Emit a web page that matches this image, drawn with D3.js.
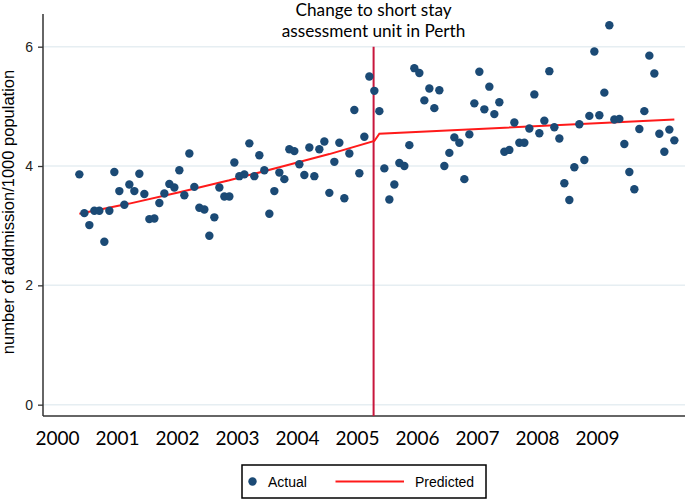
<!DOCTYPE html>
<html>
<head>
<meta charset="utf-8">
<script src="https://cdn.jsdelivr.net/npm/d3@7"></script>
<style>
  html, body { margin: 0; padding: 0; background: #fff; }
  svg { display: block; }
</style>
</head>
<body>
<svg id="chart" width="685" height="499"></svg>
<script>
// ---- data ----
const actual = [3.86,3.21,3.01,3.25,3.25,2.73,3.25,3.90,3.58,3.35,
  3.69,3.58,3.87,3.53,3.11,3.12,3.38,3.54,3.70,3.64,
  3.93,3.51,4.21,3.65,3.30,3.27,2.83,3.14,3.64,3.49,
  3.49,4.06,3.83,3.86,4.38,3.83,4.18,3.93,3.20,3.58,
  3.89,3.78,4.28,4.25,4.03,3.85,4.31,3.83,4.28,4.41,
  3.55,4.07,4.39,3.46,4.21,4.94,3.88,4.49,5.50,5.26,
  4.92,3.96,3.44,3.69,4.05,4.00,4.35,5.64,5.56,5.10,
  5.30,4.97,5.27,4.00,4.22,4.48,4.39,3.78,4.53,5.05,
  5.58,4.95,5.33,4.87,5.07,4.24,4.27,4.73,4.39,4.39,
  4.63,5.20,4.55,4.76,5.59,4.65,4.46,3.71,3.43,3.98,
  4.70,4.10,4.84,5.92,4.85,5.23,6.36,4.78,4.79,4.37,
  3.90,3.61,4.62,4.92,5.85,5.55,4.54,4.24,4.61,4.43];
const firstMonth = 4.47;              // months after Jan 2000 of first observation
const predictedIdx = [0, 10, 20, 30, 40, 50, 59, 60, 119];
const predictedVal = [3.20, 3.37, 3.56, 3.76, 3.98, 4.20, 4.42, 4.54, 4.78];
const changeIdx = 58.85;              // intervention point (observation index)
const yearLabels = ["2000","2001","2002","2003","2004","2005","2006","2007","2008","2009"];
const yTicks = [0, 2, 4, 6];
const titleLines = ["Change to short stay", "assessment unit in Perth"];
const yTitle = "number of addmission/1000 population";
const legendLabels = ["Actual", "Predicted"];

// ---- layout ----
const svg = d3.select("#chart");
const L = 43, R = 685, T = 14, B = 416;
const ARIAL = "'Liberation Sans', Arimo, Arial, sans-serif";

const x = d3.scaleLinear().domain([-2.8, 125.6]).range([L, R]);
const y = d3.scaleLinear().domain([-0.19, 6.548]).range([B, T]);
const monthOf = i => firstMonth + i;

// gridlines
svg.append("g").selectAll("line").data(yTicks).join("line")
  .attr("x1", L).attr("x2", R)
  .attr("y1", d => y(d)).attr("y2", d => y(d))
  .attr("stroke", "#e6eef2").attr("stroke-width", 1.5);

// left axis
const gy = svg.append("g").attr("transform", `translate(${L},0)`)
  .call(d3.axisLeft(y).tickValues(yTicks).tickFormat(d3.format("d"))
    .tickSize(5).tickSizeOuter(0).tickPadding(5));
gy.attr("font-family", ARIAL).attr("font-size", 14);
gy.select(".domain").remove();
gy.selectAll(".tick line").attr("stroke", "#333").attr("stroke-width", 1.3);
gy.selectAll(".tick text").attr("fill", "#222");
svg.append("line").attr("x1", L).attr("x2", L).attr("y1", T).attr("y2", B)
  .attr("stroke", "#333").attr("stroke-width", 1.5);

// bottom axis
const gx = svg.append("g").attr("transform", `translate(0,${B})`)
  .call(d3.axisBottom(x).tickValues(yearLabels.map((d, k) => k * 12))
    .tickFormat((d, k) => yearLabels[k]).tickSize(0).tickPadding(16));
gx.attr("font-family", "Lato, sans-serif").attr("font-size", 19);
gx.select(".domain").remove();
gx.selectAll(".tick text").attr("fill", "#000");
svg.append("line").attr("x1", L).attr("x2", R).attr("y1", B).attr("y2", B)
  .attr("stroke", "#333").attr("stroke-width", 1.5);

// intervention line
const cx = x(monthOf(changeIdx));
svg.append("line").attr("x1", cx).attr("x2", cx).attr("y1", y(6)).attr("y2", B)
  .attr("stroke", "#c8163c").attr("stroke-width", 2);

// predicted
const line = d3.line().x(d => x(monthOf(d[0]))).y(d => y(d[1]));
svg.append("path").datum(predictedIdx.map((d, k) => [d, predictedVal[k]]))
  .attr("d", line).attr("fill", "none").attr("stroke", "#ff1a1a").attr("stroke-width", 2);

// actual points
svg.append("g").selectAll("circle").data(actual).join("circle")
  .attr("cx", (d, i) => x(monthOf(i))).attr("cy", d => y(d)).attr("r", 4.2)
  .attr("fill", "#1b4a75");

// title
svg.append("g").selectAll("text").data(titleLines).join("text")
  .attr("x", cx).attr("y", (d, k) => 15.5 + k * 21)
  .attr("text-anchor", "middle").attr("font-family", "Lato, sans-serif")
  .attr("font-size", 17.2).attr("fill", "#000").text(d => d);

// y title
svg.append("text").attr("transform", `translate(14,212) rotate(-90)`)
  .attr("text-anchor", "middle").attr("font-family", ARIAL)
  .attr("font-size", 16.5).attr("fill", "#000").text(yTitle);

// legend
const lg = svg.append("g");
lg.append("rect").attr("x", 242).attr("y", 465).attr("width", 244).attr("height", 33)
  .attr("fill", "#fff").attr("stroke", "#000").attr("stroke-width", 1.5);
lg.append("circle").attr("cx", 252.5).attr("cy", 481.5).attr("r", 4.2).attr("fill", "#1b4a75");
lg.append("line").attr("x1", 335.5).attr("x2", 404).attr("y1", 481.5).attr("y2", 481.5)
  .attr("stroke", "#ff1a1a").attr("stroke-width", 2);
lg.selectAll("text").data(legendLabels).join("text")
  .attr("x", (d, k) => k === 0 ? 268 : 415).attr("y", 487)
  .attr("font-family", ARIAL).attr("font-size", 14)
  .attr("fill", "#000").text(d => d);
</script>
</body>
</html>
